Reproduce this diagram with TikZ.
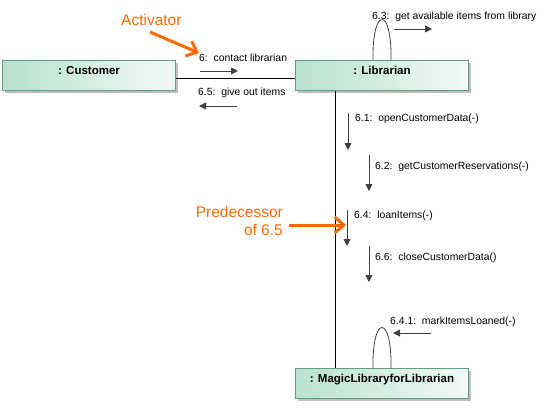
\documentclass[tikz,border=0pt]{standalone}
\usepackage{fontspec}
\setmainfont{Liberation Sans}
\usetikzlibrary{arrows.meta,shadows}
\definecolor{boxline}{HTML}{5E9E84}
\definecolor{boxleft}{HTML}{B9E1CF}
\definecolor{boxright}{HTML}{F2FAF6}
\definecolor{note}{HTML}{FF6A00}
\definecolor{msgarrow}{HTML}{404040}
\tikzset{
  objbox/.style={draw=boxline, line width=1pt, left color=boxleft, right color=boxright,
    minimum width=173pt, minimum height=30pt, inner sep=0pt, anchor=north west,
    font=\fontsize{11.5}{13}\selectfont\bfseries,
    drop shadow={shadow xshift=2pt, shadow yshift=-2pt, opacity=0.5, fill=gray}},
  msg/.style={font=\fontsize{10.4}{12}\selectfont, anchor=west, inner sep=0pt},
  msgarr/.style={draw=msgarrow, line width=0.9pt, -{Triangle[length=7pt,width=7pt]}},
  link/.style={draw=black, line width=0.8pt},
  loop/.style={draw=black!75, line width=0.8pt},
  notetext/.style={font=\fontsize{15.5}{18}\selectfont, text=note, inner sep=0pt},
  notearr/.style={draw=note, line width=3pt, -{Straight Barb[length=9pt,width=16pt,line width=3pt]}}
}
\begin{document}
\begin{tikzpicture}[x=1pt,y=-1pt]
\useasboundingbox (0,0) rectangle (552,408);
\node[objbox] (cust) at (2,60) {\raisebox{11pt}{: Customer}};
\node[objbox] (lib) at (295,60) {\raisebox{11pt}{: Librarian}};
\node[objbox] (magic) at (295,368) {\raisebox{11pt}{: MagicLibraryforLibrarian}};
% links
\draw[link] (cust.east |- 0,78) coordinate (c1) -- (lib.west |- 0,78) coordinate (l1);
\draw[link] (lib.south -| 335,0) coordinate (l2) -- (magic.north -| 335,0) coordinate (m2);
% self loops
\coordinate (lla) at (373,60);
\coordinate (llb) at (391,60);
\draw[loop] (lla) .. controls (372,6) and (392,6) .. (llb);
\coordinate (mla) at (373,368);
\coordinate (mlb) at (391,368);
\draw[loop] (mla) .. controls (372,314) and (392,314) .. (mlb);
% messages
\node[msg] (m6) at (199,58) {6:\ \ contact librarian};
\coordinate (a6s) at (200,71); \coordinate (a6e) at (238,71);
\draw[msgarr] (a6s) -- (a6e);
\node[msg] (m65) at (198,93) {6.5:\ \ give out items};
\coordinate (a65s) at (237,106); \coordinate (a65e) at (199,106);
\draw[msgarr] (a65s) -- (a65e);
\node[msg] (m63) at (372,17) {6.3:\ \ get available items from library};
\coordinate (a63s) at (394,29); \coordinate (a63e) at (432,29);
\draw[msgarr] (a63s) -- (a63e);
\node[msg] (m61) at (355,119) {6.1:\ \ openCustomerData(-)};
\coordinate (a61s) at (348,113); \coordinate (a61e) at (348,150);
\draw[msgarr] (a61s) -- (a61e);
\node[msg] (m62) at (375,167) {6.2:\ \ getCustomerReservations(-)};
\coordinate (a62s) at (369,155); \coordinate (a62e) at (369,191);
\draw[msgarr] (a62s) -- (a62e);
\node[msg] (m64) at (354,216) {6.4:\ \ loanItems(-)};
\coordinate (a64s) at (347,210); \coordinate (a64e) at (347,246);
\draw[msgarr] (a64s) -- (a64e);
\node[msg] (m66) at (375,258) {6.6:\ \ closeCustomerData()};
\coordinate (a66s) at (369,246); \coordinate (a66e) at (369,282);
\draw[msgarr] (a66s) -- (a66e);
\node[msg] (m641) at (390,322) {6.4.1:\ \ markItemsLoaned(-)};
\coordinate (a641s) at (431,333); \coordinate (a641e) at (393,333);
\draw[msgarr] (a641s) -- (a641e);
% notes
\node[notetext, anchor=west] (act) at (121,20) {Activator};
\coordinate (actb) at (150,32);
\coordinate (acte) at (199,53);
\draw[notearr] (actb) -- (acte);
\node[notetext, align=right, anchor=east] (pred) at (283,221) {Predecessor\\of 6.5};
\coordinate (preds) at (289,225);
\coordinate (prede) at (346,225);
\draw[notearr] (preds) -- (prede);
\end{tikzpicture}
\end{document}
